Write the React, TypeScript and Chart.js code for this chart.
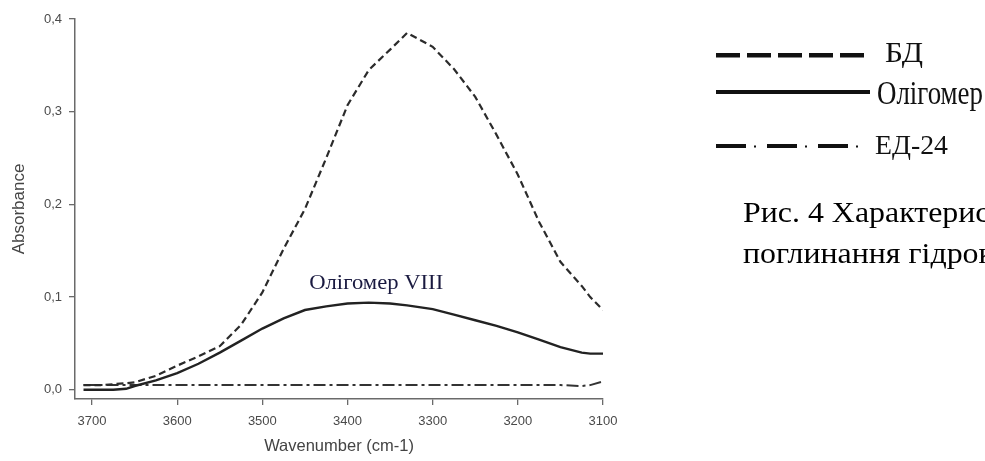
import { useEffect, useRef } from "react";
import { Chart, registerables } from "chart.js";

Chart.register(...registerables);

// Wavenumber grid (cm-1) shared by all three spectra
const wavenumbers = [
  3710, 3690, 3675, 3660, 3650, 3625, 3600, 3575, 3550, 3525, 3500, 3475, 3450, 3425,
  3400, 3375, 3350, 3330, 3300, 3275, 3250, 3225, 3200, 3175, 3150, 3125, 3115, 3100,
];

// Absorbance of БД
const bdValues = [
  0.005, 0.005, 0.006, 0.007, 0.008, 0.015, 0.026, 0.036, 0.047, 0.07, 0.105, 0.152, 0.195, 0.25,
  0.307, 0.345, 0.367, 0.385, 0.37, 0.346, 0.316, 0.275, 0.232, 0.181, 0.138, 0.112, 0.1, 0.086,
];

// Absorbance of Олігомер VIII
const oligomerValues = [
  0.0, 0.0, 0.0, 0.001, 0.004, 0.01, 0.018, 0.028, 0.04, 0.053, 0.066, 0.077, 0.086, 0.09,
  0.093, 0.094, 0.093, 0.091, 0.087, 0.081, 0.075, 0.069, 0.062, 0.054, 0.046, 0.04, 0.039, 0.039,
];

// Absorbance of ЕД-24
const ed24Values = [
  0.005, 0.005, 0.005, 0.005, 0.005, 0.005, 0.005, 0.005, 0.005, 0.005, 0.005, 0.005, 0.005, 0.005,
  0.005, 0.005, 0.005, 0.005, 0.005, 0.005, 0.005, 0.005, 0.005, 0.005, 0.005, 0.004, 0.005, 0.009,
];

const seriesLabels = ["БД", "Олігомер", "ЕД-24"];

const xTicks = [3700, 3600, 3500, 3400, 3300, 3200, 3100];
const yTicks = [0.0, 0.1, 0.2, 0.3, 0.4];

const xTitle = "Wavenumber (cm-1)";
const yTitle = "Absorbance";

const annotationText = "Олігомер VIII";
const annotationPoint = [3445, 0.109]; // wavenumber, absorbance at the text baseline

const captionLines = ["Рис. 4 Характеристичні смуги", "поглинання гідроксильних груп"];

const SANS = '"Liberation Sans", Arial, sans-serif';
const SERIF = '"Liberation Serif", "Times New Roman", serif';

function toPoints(values: number[]) {
  return values.map((y, i) => ({ x: wavenumbers[i], y }));
}

// Draws text with a horizontal scale factor
function drawScaledText(
  ctx: CanvasRenderingContext2D,
  text: string,
  x: number,
  y: number,
  font: string,
  sx: number,
  color: string
) {
  ctx.save();
  ctx.font = font;
  ctx.fillStyle = color;
  ctx.textAlign = "left";
  ctx.textBaseline = "alphabetic";
  ctx.translate(x, y);
  ctx.scale(sx, 1);
  ctx.fillText(text, 0, 0);
  ctx.restore();
}

// Draws text squeezed or stretched horizontally to a given width
function fitText(
  ctx: CanvasRenderingContext2D,
  text: string,
  x: number,
  y: number,
  font: string,
  width: number,
  color: string
) {
  ctx.save();
  ctx.font = font;
  const w = ctx.measureText(text).width || 1;
  ctx.restore();
  drawScaledText(ctx, text, x, y, font, width / w, color);
}

const overlayPlugin = {
  id: "overlay",
  afterDraw(chart: any) {
    const ctx: CanvasRenderingContext2D = chart.ctx;
    const xs = chart.scales.x;
    const ys = chart.scales.y;

    // in-plot label for the oligomer curve
    fitText(
      ctx,
      annotationText,
      xs.getPixelForValue(annotationPoint[0]),
      ys.getPixelForValue(annotationPoint[1]),
      `20px ${SERIF}`,
      134,
      "#1a1a40"
    );

    // legend on the right
    const x0 = 716;
    ctx.save();
    ctx.fillStyle = "#111";
    // БД: long dashes
    {
      const y = 55;
      let x = x0;
      for (let i = 0; i < 5; i++) {
        ctx.fillRect(x, y - 2, 24, 4.5);
        x += 31;
      }
    }
    // Олігомер: solid
    ctx.fillRect(x0, 90, 154, 4);
    // ЕД-24: dash-dot
    {
      const y = 146;
      let x = x0;
      for (let i = 0; i < 3; i++) {
        ctx.fillRect(x, y - 2, 30, 4);
        ctx.fillRect(x + 38, y - 0.5, 2, 2);
        x += 51;
      }
    }
    ctx.restore();

    const labels = chart.data.datasets.map((d: any) => d.label);
    fitText(ctx, labels[0], 885, 62, `30px ${SERIF}`, 38, "#111");
    fitText(ctx, labels[1], 877, 104, `33px ${SERIF}`, 106, "#111");
    fitText(ctx, labels[2], 875, 154, `27px ${SERIF}`, 73, "#111");

    // figure caption
    drawScaledText(ctx, captionLines[0], 743, 222, `29px ${SERIF}`, 1.1, "#000");
    drawScaledText(ctx, captionLines[1], 743, 263, `29px ${SERIF}`, 1.1, "#000");
  },
};

export default function App() {
  const canvasRef = useRef<HTMLCanvasElement | null>(null);

  useEffect(() => {
    const canvas = canvasRef.current;
    if (!canvas) return;

    const axisColor = "#6a6a6a";

    const chart = new Chart(canvas, {
      type: "line",
      data: {
        datasets: [
          {
            label: seriesLabels[0],
            data: toPoints(bdValues),
            borderColor: "#2b2b2b",
            borderWidth: 2.2,
            borderDash: [7, 4],
            pointRadius: 0,
            tension: 0,
            fill: false,
          },
          {
            label: seriesLabels[1],
            data: toPoints(oligomerValues),
            borderColor: "#222",
            borderWidth: 2.4,
            pointRadius: 0,
            tension: 0,
            fill: false,
          },
          {
            label: seriesLabels[2],
            data: toPoints(ed24Values),
            borderColor: "#333",
            borderWidth: 2,
            borderDash: [12, 4, 3, 4],
            pointRadius: 0,
            tension: 0,
            fill: false,
          },
        ],
      },
      options: {
        responsive: false,
        animation: false,
        devicePixelRatio: 1,
        events: [],
        layout: { padding: { left: 0, top: 19, right: 382, bottom: 0 } },
        plugins: {
          legend: { display: false },
          tooltip: { enabled: false },
          title: { display: false },
        },
        scales: {
          x: {
            type: "linear",
            reverse: true,
            min: 3100,
            max: 3720,
            afterFit: (scale: any) => {
              scale.height = 62;
            },
            afterBuildTicks: (scale: any) => {
              scale.ticks = xTicks.map((value) => ({ value }));
            },
            grid: {
              display: true,
              drawOnChartArea: false,
              drawTicks: true,
              tickLength: 6,
              color: axisColor,
              lineWidth: 1.3,
            },
            border: { display: true, color: axisColor, width: 1.5 },
            ticks: {
              color: "#4a4a4a",
              font: { family: SANS, size: 13 },
              padding: 9,
              maxRotation: 0,
              autoSkip: false,
              callback: (v: any) => String(v),
            },
            title: {
              display: true,
              text: xTitle,
              color: "#444",
              font: { family: SANS, size: 16.5 },
              padding: { top: 0, bottom: 5 },
            },
          },
          y: {
            type: "linear",
            min: -0.01,
            max: 0.4,
            afterFit: (scale: any) => {
              scale.width = 75;
            },
            afterBuildTicks: (scale: any) => {
              scale.ticks = yTicks.map((value) => ({ value }));
            },
            grid: {
              display: true,
              drawOnChartArea: false,
              drawTicks: true,
              tickLength: 6,
              color: axisColor,
              lineWidth: 1.3,
            },
            border: { display: true, color: axisColor, width: 1.5 },
            ticks: {
              color: "#4a4a4a",
              font: { family: SANS, size: 13 },
              padding: 7,
              autoSkip: false,
              callback: (v: any) => Number(v).toFixed(1).replace(".", ","),
            },
            title: {
              display: true,
              text: yTitle,
              color: "#444",
              font: { family: SANS, size: 17 },
              padding: { top: 9, bottom: 0 },
            },
          },
        },
      },
      plugins: [overlayPlugin],
    });

    return () => chart.destroy();
  }, []);

  return (
    <div
      style={{
        position: "fixed",
        left: 0,
        top: 0,
        width: 985,
        height: 461,
        background: "#fff",
        overflow: "hidden",
      }}
    >
      <canvas ref={canvasRef} width={985} height={461} style={{ display: "block" }} />
    </div>
  );
}
